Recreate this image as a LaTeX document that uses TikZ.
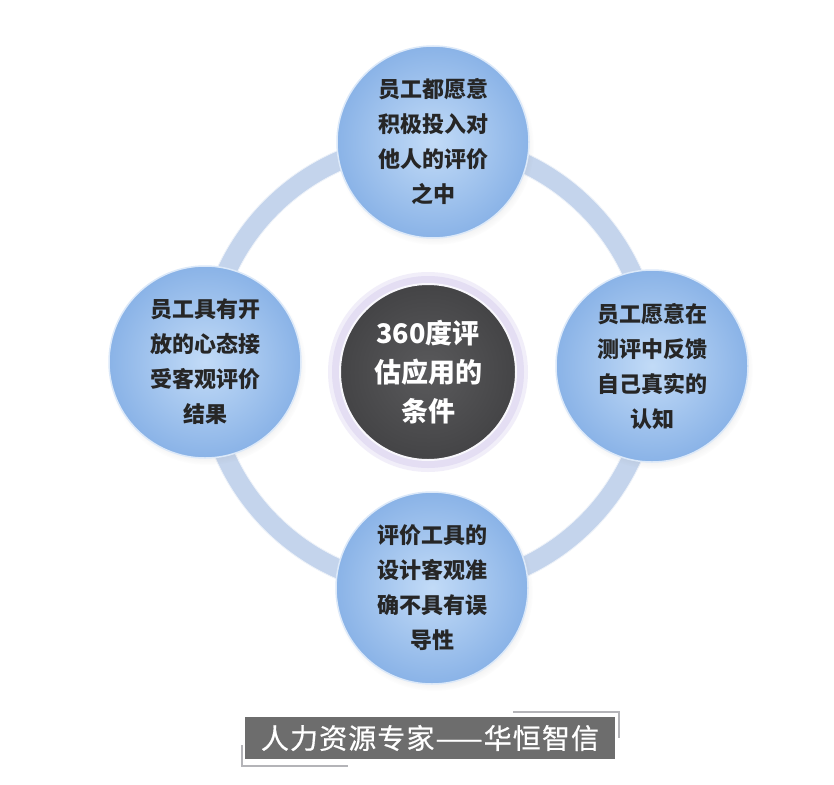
\documentclass[tikz,border=0pt]{standalone}
\usepackage{fontspec}
\newfontfamily\cjk{Noto Sans CJK SC}
\newfontfamily\cjklab[FakeBold=0.6,LetterSpace=4]{Noto Sans CJK SC}
\usetikzlibrary{shadows}
\definecolor{ringcol}{HTML}{C4D4EC}
\definecolor{ballin}{HTML}{C2DBF7}
\definecolor{ballout}{HTML}{8AB3E7}
\definecolor{ballrim}{HTML}{DCE9F9}
\definecolor{txtdark}{HTML}{262626}
\definecolor{coredark}{HTML}{444446}
\definecolor{corein}{HTML}{5A5A5C}
\definecolor{glow}{HTML}{D2C9EC}
\definecolor{labelgray}{HTML}{6D6D6D}
\definecolor{bracketgray}{HTML}{B4B4B8}
\tikzset{
  ball/.style={circle, minimum size=192pt, inner sep=0pt, align=center,
    shading=radial, inner color=ballin, outer color=ballout,
    draw=ballrim, line width=1.5pt,
    circular drop shadow={opacity=0.18, shadow xshift=2pt, shadow yshift=-4pt, shadow scale=1.03},
    text=txtdark, font=\cjk\bfseries\fontsize{22}{35}\selectfont},
  core/.style={circle, minimum size=176pt, inner sep=0pt, align=center,
    shading=radial, inner color=corein, outer color=coredark,
    draw=white!85!glow, line width=2pt,
    text=white, font=\cjk\bfseries\fontsize{27}{39}\selectfont},
  bracket/.style={draw=bracketgray, line width=1.3pt}
}
\begin{document}
\begin{tikzpicture}[x=1pt,y=-1pt]
\useasboundingbox (0,0) rectangle (834,784);
\fill[white] (0,0) rectangle (834,784);
\coordinate (ringc) at (429,365);
\draw[ringcol, line width=20pt] (ringc) circle[radius=223pt];
\draw[white!70!ringcol, line width=0.8pt] (ringc) circle[radius=213pt];
\draw[white!70!ringcol, line width=0.8pt] (ringc) circle[radius=233pt];
\fill[glow, opacity=0.6] (428,372) circle[radius=96pt];
\fill[glow!60!white, opacity=0.5] (428,372) circle[radius=100pt];
\node[core] (center) at (428,372) {360度评\\估应用的\\条件};
\node[ball] (top) at (433,142) {员工都愿意\\积极投入对\\他人的评价\\之中};
\node[ball] (left) at (205,362) {员工具有开\\放的心态接\\受客观评价\\结果};
\node[ball] (right) at (652,366) {员工愿意在\\测评中反馈\\自己真实的\\认知};
\node[ball] (bottom) at (432,588) {评价工具的\\设计客观准\\确不具有误\\导性};
\node[fill=labelgray, minimum width=370pt, minimum height=42pt, inner sep=0pt,
  text=white, font=\cjklab\fontsize{28}{30}\selectfont] (label) at (430,738)
  {人力资源专家——华恒智信};
\draw[bracket] (513,712) -- (619,712) -- (619,738);
\draw[bracket] (242,745) -- (242,766) -- (348,766);
\end{tikzpicture}
\end{document}
